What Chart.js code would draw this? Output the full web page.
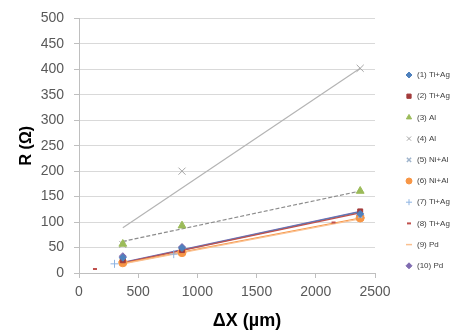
<!DOCTYPE html>
<html>
<head>
<meta charset="utf-8">
<script src="https://cdn.jsdelivr.net/npm/chart.js@4/dist/chart.umd.min.js"></script>
<style>
  html, body { margin: 0; padding: 0; background: #fff; }
  #wrap { width: 464px; height: 335px; }
</style>
</head>
<body>
<div id="wrap"><canvas id="canvas" width="464" height="335"></canvas></div>
<script>
// series names, as in the legend
let names = ['(1) Ti+Ag', '(2) Ti+Ag', '(3) Al', '(4) Al', '(5) Ni+Al',
             '(6) Ni+Al', '(7) Ti+Ag', '(8) Ti+Ag', '(9) Pd', '(10) Pd'];

let dx1 = [370, 870, 2375];  let r1 = [30, 49, 116];
let dx2 = [370, 870, 2375];  let r2 = [25, 45, 121];
let dx3 = [370, 870, 2375];  let r3 = [57, 93, 161];
let dx4 = [370, 870, 2375];  let r4 = [56, 200, 402];
let dx5 = [370, 870, 2375];  let r5 = [27, 44, 112];
let dx6 = [370, 870, 2375];  let r6 = [20, 40, 108];
let dx7 = [300, 800];        let r7 = [18, 37];
let dx8 = [135, 2150];       let r8 = [8, 99];
let dx9 = [370, 870, 2375];  let r9 = [22, 42, 109];
let dx10 = [370, 870, 2375]; let r10 = [33, 51, 113];

// trend lines (start / end)
let trendX = [370, 2375];
let trend1 = [20, 120];
let trend2 = [20, 118];
let trend3 = [62, 161];
let trend4 = [89, 402];
let trend6 = [19, 108];
let trend9 = [18, 106];
let trend10 = [21, 121];

let xTicks = [0, 500, 1000, 1500, 2000, 2500];
let yTicks = [0, 50, 100, 150, 200, 250, 300, 350, 400, 450, 500];

// marker looks per series
let looks = [
  { color: '#4F81BD', style: 'rectRot',  radius: 3.5, bw: 1 },
  { color: '#A33B3B', style: 'rect',     radius: 3.5, bw: 1 },
  { color: '#9BBB59', style: 'triangle', radius: 4.5, bw: 1 },
  { color: '#A6A6A6', style: 'crossRot', radius: 5,   bw: 1 },
  { color: '#9FB4CC', style: 'crossRot', radius: 3,   bw: 1.5 },
  { color: '#F79646', style: 'circle',   radius: 4,   bw: 1 },
  { color: '#8EB4E3', style: 'cross',    radius: 4,   bw: 1 },
  { color: '#C0504D', style: 'line',     radius: 2,   bw: 2 },
  { color: '#FAC090', style: 'line',     radius: 4.5, bw: 1.5 },
  { color: '#7F6BB0', style: 'rectRot',  radius: 3.5, bw: 1 }
];

let pointSets = [[dx1, r1], [dx2, r2], [dx3, r3], [dx4, r4], [dx5, r5],
                 [dx6, r6], [dx7, r7], [dx8, r8], [dx9, r9], [dx10, r10]];

function pts(xs, ys) {
  return xs.map((x, i) => ({ x: x, y: ys[i] }));
}

let datasets = [];

// trend lines first (drawn under the markers)
let trends = [
  [trend4, '#B4B4B4', []],
  [trend3, '#8C8C8C', [4, 2]],
  [trend9, '#FAC090', []],
  [trend6, '#F79646', []],
  [trend2, '#C0504D', []],
  [trend1, '#4F81BD', []],
  [trend10, '#7F6BB0', []]
];
trends.forEach(t => {
  datasets.push({
    label: 'trend',
    data: pts(trendX, t[0]),
    showLine: true,
    borderColor: t[1],
    borderWidth: 1.2,
    borderDash: t[2],
    pointRadius: 0,
    order: 1
  });
});

pointSets.forEach((s, i) => {
  let l = looks[i];
  datasets.push({
    label: names[i],
    data: pts(s[0], s[1]),
    showLine: false,
    pointStyle: l.style,
    pointRadius: l.radius,
    pointBorderWidth: l.bw,
    backgroundColor: l.color,
    borderColor: l.color,
    order: 0
  });
});

// legend drawn by hand to sit where the original one is
let sideLegend = {
  id: 'sideLegend',
  afterDraw(chart) {
    let ctx = chart.ctx;
    ctx.save();
    ctx.font = '8px "Liberation Sans", Arial, sans-serif';
    ctx.textBaseline = 'middle';
    ctx.textAlign = 'left';
    names.forEach((n, i) => {
      let y = 75 + i * 21.2;
      let l = looks[i];
      ctx.fillStyle = l.color;
      ctx.strokeStyle = l.color;
      ctx.lineWidth = l.bw;
      Chart.helpers.drawPoint(ctx, {
        pointStyle: l.style,
        radius: Math.min(l.radius, 3),
        rotation: 0,
        borderWidth: l.bw
      }, 409, y);
      ctx.fillStyle = '#404040';
      ctx.fillText(n, 417, y);
    });
    ctx.restore();
  }
};

let fontFam = '"Liberation Sans", Arial, sans-serif';

let options = {
  type: 'scatter',
  data: { datasets: datasets },
  options: {
    animation: false,
    responsive: false,
    layout: { padding: { left: 0, top: 16, right: 89, bottom: 0 } },
    plugins: {
      legend: { display: false },
      tooltip: { enabled: false }
    },
    scales: {
      x: {
        type: 'linear',
        min: 0,
        max: 2500,
        afterBuildTicks: s => { s.ticks = xTicks.map(v => ({ value: v })); },
        afterFit: s => { s.height = 62; },
        grid: { drawOnChartArea: false, drawTicks: true, tickLength: 5, color: '#BFBFBF' },
        border: { color: '#BFBFBF' },
        ticks: { color: '#595959', padding: 6, maxRotation: 0,
                 callback: v => String(v),
                 font: { family: fontFam, size: 14 } },
        title: {
          display: true,
          text: '        ΔX (µm)',
          color: '#000',
          padding: { top: 0, bottom: 3 },
          font: { family: fontFam, size: 18, weight: 'bold' }
        }
      },
      y: {
        min: 0,
        max: 500,
        afterBuildTicks: s => { s.ticks = yTicks.map(v => ({ value: v })); },
        afterFit: s => { s.width = 79; },
        grid: { color: '#D9D9D9', drawTicks: true, tickLength: 5, tickColor: '#BFBFBF' },
        border: { color: '#BFBFBF' },
        ticks: { color: '#595959', padding: 10,
                 callback: v => String(v),
                 font: { family: fontFam, size: 14 } },
        title: {
          display: true,
          text: 'R (Ω)',
          color: '#000',
          padding: { top: 17, bottom: 0 },
          font: { family: fontFam, size: 16, weight: 'bold' }
        }
      }
    }
  },
  plugins: [sideLegend]
};

let chart = new Chart(document.getElementById('canvas'), options);
</script>
</body>
</html>
